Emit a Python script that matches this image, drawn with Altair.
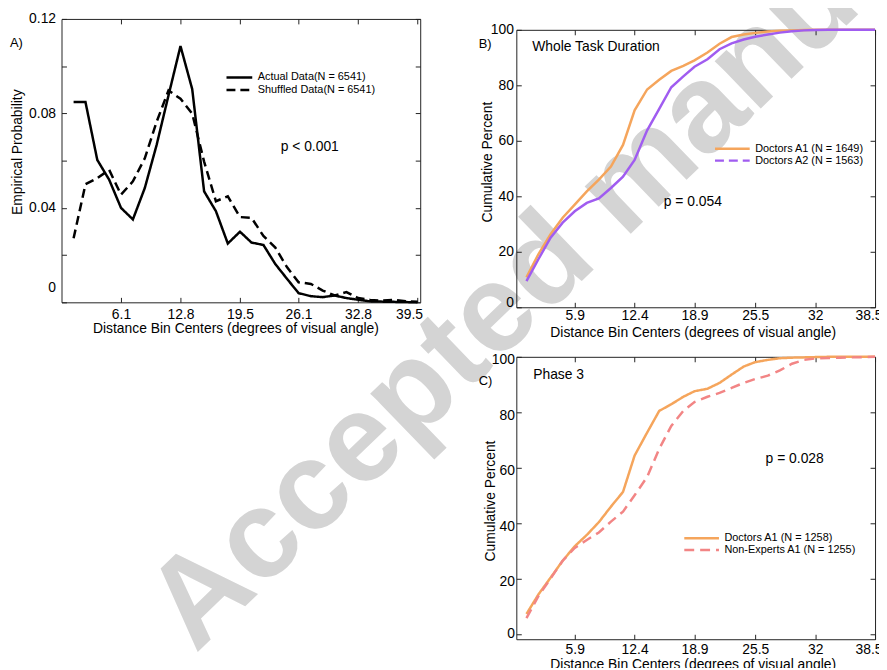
import altair as alt
import pandas as pd

FONT = "Liberation Sans"
FRAME = "#222222"
ORANGE = "#F5A55C"
PURPLE = "#A05CF0"
PINK = "#F28585"

# ---------------- Panel A data ----------------
x_ticks_a = [6.1, 12.8, 19.5, 26.1, 32.8, 39.5]
y_ticks_a = [0, 0.04, 0.08, 0.12]
y_minor_a = [0, 0.02, 0.04, 0.06, 0.08, 0.10, 0.12]
bins_a = [0.76, 2.10, 3.43, 4.77, 6.10, 7.44, 8.78, 10.11, 11.45, 12.80,
          14.12, 15.46, 16.79, 18.13, 19.50, 20.80, 22.14, 23.48, 24.81, 26.10,
          27.49, 28.82, 30.16, 31.49, 32.80, 34.17, 35.50, 36.84, 38.18, 39.50]
actual_a = [0.0848, 0.0848, 0.0603, 0.0519, 0.0400, 0.0351, 0.0484, 0.0666, 0.0876, 0.1085,
            0.0903, 0.0470, 0.0386, 0.0249, 0.0299, 0.0253, 0.0243, 0.0162, 0.0099, 0.0039,
            0.0026, 0.0022, 0.0029, 0.0018, 0.0011, 0.0004, 0.0003, 0.0002, 0.0001, 0.0000]
shuffled_a = [0.0271, 0.0500, 0.0526, 0.0561, 0.0456, 0.0512, 0.0610, 0.0764, 0.0897, 0.0862,
              0.0799, 0.0596, 0.0428, 0.0449, 0.0361, 0.0358, 0.0281, 0.0232, 0.0148, 0.0085,
              0.0078, 0.0050, 0.0029, 0.0043, 0.0018, 0.0010, 0.0007, 0.0010, 0.0005, 0.0002]
labels_a = ["Actual Data(N = 6541)", "Shuffled Data(N = 6541)"]

# ---------------- Panels B / C data ----------------
x_ticks_bc = [5.9, 12.4, 18.9, 25.5, 32, 38.5]
y_ticks_bc = [0, 20, 40, 60, 80, 100]
bins_bc = [0.66, 1.97, 3.28, 4.59, 5.90, 7.21, 8.52, 9.83, 11.14, 12.40,
           13.76, 15.07, 16.38, 17.69, 18.90, 20.31, 21.62, 22.93, 24.24, 25.50,
           26.86, 28.17, 29.48, 30.79, 32.00, 33.41, 34.72, 36.03, 37.34, 38.50]
a1_b = [10.8, 19.2, 26.3, 32.3, 37.0, 41.8, 46.0, 50.7, 58.5, 71.0,
        78.5, 82.0, 85.2, 87.0, 89.0, 91.8, 95.0, 97.4, 98.3, 98.9,
        99.4, 99.7, 99.8, 99.9, 100, 100, 100, 100, 100, 100]
a2_b = [9.4, 17.4, 25.1, 30.5, 34.6, 37.6, 39.2, 43.0, 47.1, 53.1,
        63.8, 71.5, 79.3, 83.2, 86.7, 89.4, 93.0, 95.1, 96.5, 97.5,
        98.3, 99.0, 99.5, 99.8, 99.9, 100, 100, 100, 100, 100]
labels_b = ["Doctors A1 (N = 1649)", "Doctors A2 (N = 1563)"]

a1_c = [7.3, 14.4, 20.4, 26.5, 31.7, 35.8, 40.4, 46.0, 51.3, 64.4,
        72.7, 80.5, 82.9, 85.6, 87.6, 88.5, 90.6, 93.6, 96.5, 98.1,
        98.9, 99.5, 99.7, 99.8, 99.9, 100, 100, 100, 100, 100]
ne_c = [5.8, 13.8, 20.1, 26.5, 31.1, 34.0, 36.7, 40.6, 44.2, 50.1,
        56.7, 66.8, 75.1, 80.5, 83.7, 85.6, 87.0, 88.8, 90.6, 92.0,
        93.2, 95.1, 97.5, 98.9, 99.4, 99.6, 99.7, 99.8, 99.9, 100]
labels_c = ["Doctors A1 (N = 1258)", "Non-Experts A1 (N = 1255)"]

XTITLE = "Distance Bin Centers (degrees of visual angle)"
LABEL_EXPR = "'' + datum.value"


def long_df(xs, series, names):
    rows = []
    for vals, name in zip(series, names):
        for xv, yv in zip(xs, vals):
            rows.append({"x": xv, "y": yv, "series": name})
    return pd.DataFrame(rows)


def main_x(ticks, pad, flush_off, tx, ty):
    return alt.Axis(values=ticks, labelExpr=LABEL_EXPR, orient="bottom", ticks=False, domain=False,
                    grid=False, labelPadding=pad, labelFlush=5, labelFlushOffset=flush_off,
                    title=XTITLE, titleX=tx, titleY=ty, titleAlign="center",
                    titleBaseline="middle")


def main_y(ticks, title, pad, zero_off, other_off, tx, ty):
    return alt.Axis(values=ticks, labelExpr=LABEL_EXPR, orient="left", ticks=False, domain=False,
                    grid=False, labelPadding=pad, labelFlush=False,
                    labelOffset={"condition": {"test": "datum.value == 0", "value": zero_off},
                                 "value": other_off},
                    title=title, titleX=tx, titleY=ty, titleAlign="center",
                    titleBaseline="middle", titleAngle=270)


def tick_axis(orient, values):
    return alt.Axis(orient=orient, values=values, offset=-5, tickSize=5, tickWidth=1,
                    tickColor=FRAME, labels=False, domain=False, grid=False, title=None)


def legend(lx, ly, sym, row_pad):
    return alt.Legend(title=None, orient="none", legendX=lx, legendY=ly, symbolType="stroke",
                      symbolSize=sym * sym, symbolStrokeWidth=2.5, labelFontSize=11,
                      labelOffset=4, rowPadding=row_pad, clipHeight=12, padding=0,
                      labelFont=FONT, labelColor="black")


def text_layer(xs, ys, texts, sx, sy, size, xaxis, yaxis):
    df = pd.DataFrame({"x": xs, "y": ys, "t": texts})
    return alt.Chart(df).mark_text(align="left", baseline="middle", fontSize=size,
                                   font=FONT, color="black").encode(
        x=alt.X("x:Q", scale=sx, axis=xaxis),
        y=alt.Y("y:Q", scale=sy, axis=yaxis),
        text="t:N",
    )


# ---------------- Panel A ----------------
df_a = long_df(bins_a, [actual_a, shuffled_a], labels_a)
sx_a = alt.Scale(domain=[-0.6, 39.8], nice=False, zero=False)
sy_a = alt.Scale(domain=[0, 0.12], nice=False, zero=False)
leg_a = legend(165, 53, 26, 0.7)

wm = alt.Chart(pd.DataFrame({"x": [14.48], "y": [-0.149], "t": ["Accepted manuscript"]})).mark_text(
    angle=316, align="left", baseline="alphabetic", fontSize=126, fontWeight="bold",
    font=FONT, color="#d4d4d4").encode(
    x=alt.X("x:Q", scale=sx_a, axis=None),
    y=alt.Y("y:Q", scale=sy_a, axis=None),
    text="t:N")

lines_a = alt.Chart(df_a).mark_line(strokeWidth=2.5).encode(
    x=alt.X("x:Q", scale=sx_a, axis=main_x(x_ticks_a, 5, 5, 175.5, 26)),
    y=alt.Y("y:Q", scale=sy_a, axis=main_y(y_ticks_a, "Empirical Probability", 6, -15, 0, -44, 134)),
    color=alt.Color("series:N", scale=alt.Scale(domain=labels_a, range=["black", "black"]), legend=leg_a),
    strokeDash=alt.StrokeDash("series:N", scale=alt.Scale(domain=labels_a, range=[[1, 0], [9, 5]]), legend=leg_a),
)
let_a = text_layer([-6.41], [0.1099], ["A)"], sx_a, sy_a, 13,
                   tick_axis("top", x_ticks_a), tick_axis("right", y_minor_a))
note_a = text_layer([24.08], [0.0659], ["p < 0.001"], sx_a, sy_a, 14,
                    tick_axis("bottom", x_ticks_a), tick_axis("left", y_minor_a))
panel_a = alt.layer(wm, lines_a, let_a, note_a).resolve_axis(
    x="independent", y="independent").properties(width=362, height=286)

# ---------------- Panel B ----------------
df_b = long_df(bins_bc, [a1_b, a2_b], labels_b)
sx_b = alt.Scale(domain=[-0.44, 38.5], nice=False, zero=False)
sy_b = alt.Scale(domain=[0, 100], nice=False, zero=False)
leg_b = legend(199, 114, 35, 0)
color_b = alt.Scale(domain=labels_b, range=[ORANGE, PURPLE])
lines_b = alt.Chart(df_b).mark_line(strokeWidth=2.5).encode(
    x=alt.X("x:Q", scale=sx_b, axis=main_x(x_ticks_bc, 1, 7, 178, 25)),
    y=alt.Y("y:Q", scale=sy_b, axis=main_y(y_ticks_bc, "Cumulative Percent", 3, -5, 0, -29, 133)),
    color=alt.Color("series:N", scale=color_b, legend=leg_b),
)
legend_only_b = alt.Chart(df_b).transform_filter("false").mark_line(strokeWidth=2.5).encode(
    x=alt.X("x:Q", scale=sx_b, axis=None),
    y=alt.Y("y:Q", scale=sy_b, axis=None),
    color=alt.Color("series:N", scale=color_b, legend=leg_b),
    strokeDash=alt.StrokeDash("series:N", scale=alt.Scale(domain=labels_b, range=[[1, 0], [9, 5]]), legend=leg_b),
)
let_b = text_layer([-4.52], [95], ["B)"], sx_b, sy_b, 13,
                   tick_axis("top", x_ticks_bc), tick_axis("right", y_ticks_bc))
note_b = text_layer([1.28, 15.56], [93.9, 37.9], ["Whole Task Duration", "p = 0.054"], sx_b, sy_b, 14,
                    tick_axis("bottom", x_ticks_bc), tick_axis("left", y_ticks_bc))
panel_b = alt.layer(lines_b, legend_only_b, let_b, note_b).resolve_axis(
    x="independent", y="independent").properties(width=362, height=280)

# ---------------- Panel C ----------------
df_c = long_df(bins_bc, [a1_c, ne_c], labels_c)
sy_c = alt.Scale(domain=[-1.8, 100], nice=False, zero=False)
leg_c = legend(168, 177, 35, 0)
lines_c = alt.Chart(df_c).mark_line(strokeWidth=2.5).encode(
    x=alt.X("x:Q", scale=sx_b, axis=main_x(x_ticks_bc, 3, 7, 178, 26)),
    y=alt.Y("y:Q", scale=sy_c, axis=main_y(y_ticks_bc, "Cumulative Percent", 2, -1, 3, -26, 145)),
    color=alt.Color("series:N", scale=alt.Scale(domain=labels_c, range=[ORANGE, PINK]), legend=leg_c),
    strokeDash=alt.StrokeDash("series:N", scale=alt.Scale(domain=labels_c, range=[[1, 0], [10, 6]]), legend=leg_c),
)
let_c = text_layer([-4.52], [91.4], ["C)"], sx_b, sy_c, 13,
                   tick_axis("top", x_ticks_bc), tick_axis("right", y_ticks_bc))
note_c = text_layer([1.39, 26.62], [93.6, 63], ["Phase 3", "p = 0.028"], sx_b, sy_c, 14,
                    tick_axis("bottom", x_ticks_bc), tick_axis("left", y_ticks_bc))
panel_c = alt.layer(lines_c, let_c, note_c).resolve_axis(
    x="independent", y="independent").properties(width=362, height=285)

# ---------------- Layout ----------------
IND = dict(x="independent", y="independent", color="independent", strokeDash="independent")
IND_LEG = dict(color="independent", strokeDash="independent")

spacer = alt.Chart(pd.DataFrame({"v": [0]})).mark_point(opacity=0).encode(
    x=alt.value(0), y=alt.value(0)).properties(
    width=362, height=11, view=alt.ViewBackground(strokeOpacity=0))

# a nested, flush-bounded concat counts as zero height, so C's offset is the full distance
right_top = alt.vconcat(spacer, panel_b, spacing=0, bounds="flush").resolve_scale(**IND).resolve_legend(**IND_LEG)
right = alt.vconcat(right_top, panel_c, spacing=341, bounds="flush").resolve_scale(**IND).resolve_legend(**IND_LEG)

chart = alt.hconcat(panel_a, right, spacing=97, bounds="flush").resolve_scale(**IND).resolve_legend(
    **IND_LEG).properties(
    autosize=alt.AutoSizeParams(type="none"),
    padding={"left": 54, "top": 8, "right": 825, "bottom": 652},
).configure(font=FONT, background="white").configure_view(
    stroke=FRAME, strokeWidth=1
).configure_axis(
    labelFont=FONT, titleFont=FONT, labelFontSize=14, titleFontSize=14,
    titleFontWeight="normal", labelColor="black", titleColor="black"
).configure_legend(labelFont=FONT, labelFontSize=11, labelColor="black")

chart.save("out.html", embed_options={"renderer": "svg", "actions": False})
